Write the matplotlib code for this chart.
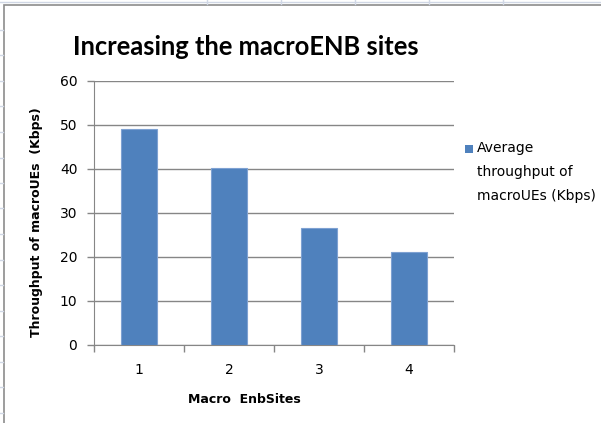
import numpy as np
import matplotlib
matplotlib.use("Agg")
import matplotlib.pyplot as plt
from matplotlib.lines import Line2D
from matplotlib.patches import Rectangle

# data
sites = ["1", "2", "3", "4"]
throughput = [49.0, 40.1, 26.5, 21.1]
yticks = [0, 10, 20, 30, 40, 50, 60]
series_name = "Average\nthroughput of\nmacroUEs (Kbps)"

W, H = 601, 423
fig = plt.figure(figsize=(W / 100, H / 100), dpi=100)

def fx(px):
    return px / W

def fy(py):
    return 1 - py / H

# spreadsheet grid showing around the chart
for x in [207, 281, 355, 429, 503]:
    fig.add_artist(Line2D([fx(x), fx(x)], [fy(0), fy(4)], color="#d0d7e5", lw=1))
fig.add_artist(Line2D([0, 1], [fy(2), fy(2)], color="#d0d7e5", lw=1))
for y in np.arange(30, 423, 25.5):
    fig.add_artist(Line2D([0, fx(3)], [fy(y), fy(y)], color="#d0d7e5", lw=1))

# chart area border
fig.add_artist(Rectangle((fx(4), -0.01), 1.0, fy(5) + 0.01, fill=False,
                         edgecolor="#8c8c8c", lw=1.2))

ax = fig.add_axes([fx(94), fy(345), fx(454) - fx(94), fy(80.7) - fy(345)])
x = np.arange(len(sites))
bars = ax.bar(x, throughput, width=0.4, color="#4f81bd", edgecolor="#7ea1d2",
              linewidth=0.8, zorder=3)

ax.set_xlim(-0.5, len(sites) - 0.5)
ax.set_ylim(0, 60)
ax.set_yticks(yticks)
ax.set_xticks(x)
ax.set_xticklabels(sites)
ax.set_xticks(np.arange(-0.5, len(sites), 1.0), minor=True)
ax.tick_params(axis="x", which="major", length=0, pad=13, labelsize=10)
ax.tick_params(axis="x", which="minor", length=5, color="#868686", width=1)
ax.tick_params(axis="y", length=5, color="#868686", width=1, labelsize=10, pad=7)
ax.grid(axis="y", color="#868686", lw=1, zorder=0)
for s in ["top", "right"]:
    ax.spines[s].set_visible(False)
ax.spines["left"].set_color("#868686")
ax.spines["bottom"].set_color("#868686")

ax.set_ylabel("Throughput of macroUEs  (Kbps)", fontsize=9, fontweight="bold")
ax.yaxis.set_label_coords((37 - 94) / 360, (345 - 222) / 264.3)
ax.set_xlabel("Macro  EnbSites", fontsize=9, fontweight="bold")
ax.xaxis.set_label_coords((244 - 94) / 360, -(399 - 345) / 264.3)
ax.xaxis.label.set_va("center")
ax.yaxis.label.set_va("center")

fig.text(fx(246), fy(47), "Increasing the macroENB sites", ha="center", va="center",
         fontsize=18.4, fontweight="bold", family="Lato")

# legend: square beside the first line of the series name
fig.add_artist(Rectangle((fx(465), fy(153)), fx(8), fy(145) - fy(153),
                         facecolor="#4f81bd", edgecolor="none"))
fig.text(fx(477), fy(141), series_name, ha="left", va="top", fontsize=10,
         linespacing=1.9)

fig.savefig("out.png", dpi=100)
